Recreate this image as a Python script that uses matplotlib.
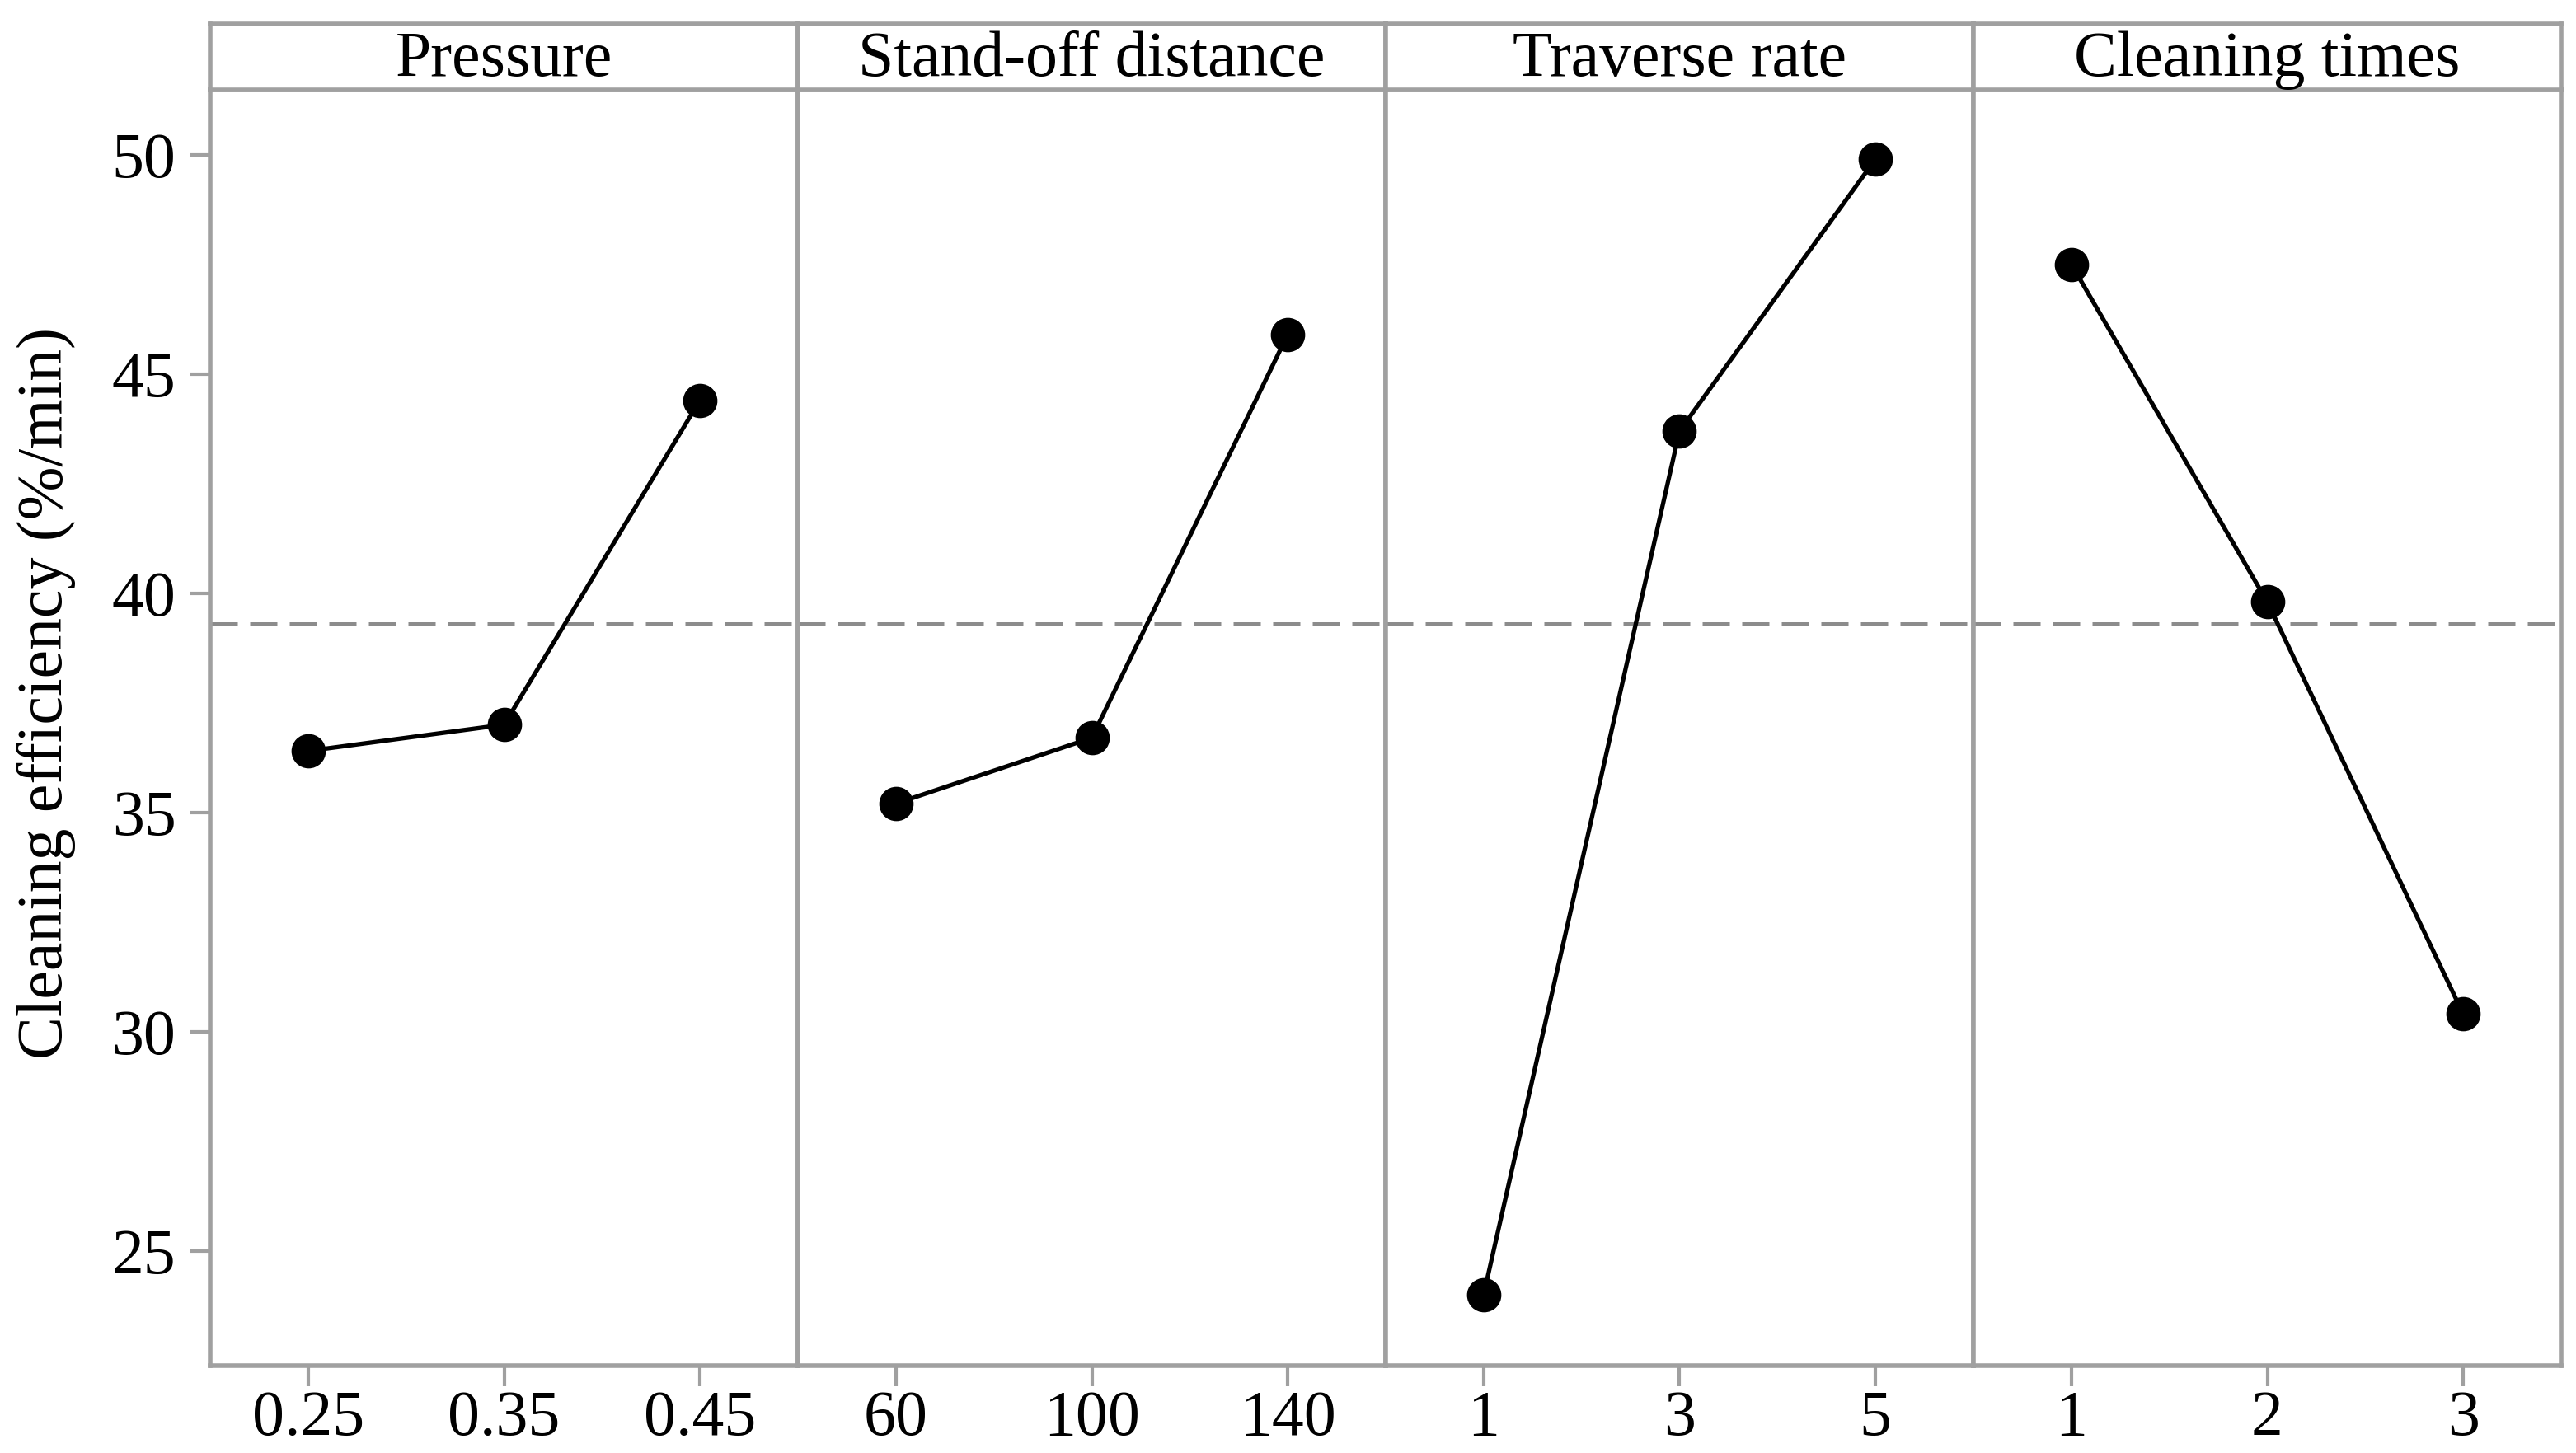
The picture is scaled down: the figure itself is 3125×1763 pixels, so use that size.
import matplotlib
matplotlib.use("Agg")
import matplotlib.pyplot as plt

factors = ["Pressure", "Stand-off distance", "Traverse rate", "Cleaning times"]
levels = [["0.25", "0.35", "0.45"],
          ["60", "100", "140"],
          ["1", "3", "5"],
          ["1", "2", "3"]]
pressure = [36.4, 37.0, 44.4]
standoff = [35.2, 36.7, 45.9]
traverse = [24.0, 43.7, 49.9]
cleaning = [47.5, 39.8, 30.4]
grand_mean = 39.3
yticks = [25, 30, 35, 40, 45, 50]

series = [pressure, standoff, traverse, cleaning]

plt.rcParams['font.family'] = ['Liberation Serif', 'DejaVu Serif']
FS = 56
GRAY = "#a0a0a0"

W, H = 3125, 1763
fig = plt.figure(figsize=(W / 100, H / 100), dpi=100)

left, right = 255 / W, 3107 / W
bottom, top = 1 - 1657 / H, 1 - 109 / H
strip_top = 1 - 29 / H
pw = (right - left) / 4

for i in range(4):
    ax = fig.add_axes([left + i * pw, bottom, pw, top - bottom])
    xs = list(range(len(series[i])))
    ax.axhline(grand_mean, color="#8c8c8c", lw=3.6, ls=(0, (6.6, 3)), zorder=1)
    ax.plot(xs, series[i], color="black", lw=3.8, marker="o", markersize=29,
            zorder=3)
    ax.set_xlim(-0.5, 2.5)
    ax.set_ylim(22.38, 51.48)
    ax.set_xticks(xs)
    ax.set_xticklabels(levels[i], fontsize=FS)
    ax.set_yticks(yticks)
    if i == 0:
        ax.set_yticklabels([str(t) for t in yticks], fontsize=FS)
    else:
        ax.tick_params(axis="y", left=False, labelleft=False)
    ax.tick_params(axis="both", color=GRAY, width=3, length=18, pad=12)
    ax.tick_params(axis="x", pad=3)
    for s in ax.spines.values():
        s.set_color(GRAY)
        s.set_linewidth(4)

    sax = fig.add_axes([left + i * pw, top, pw, strip_top - top])
    sax.set_xticks([])
    sax.set_yticks([])
    for s in sax.spines.values():
        s.set_color(GRAY)
        s.set_linewidth(4)
    sax.text(0.5, 0.45, factors[i], ha="center", va="center", fontsize=FS,
             transform=sax.transAxes)

fig.text(0.018, 0.523, "Cleaning efficiency (%/min)", rotation=90,
         ha="center", va="center", fontsize=FS)

fig.savefig("out.png", dpi=100, facecolor="white")
